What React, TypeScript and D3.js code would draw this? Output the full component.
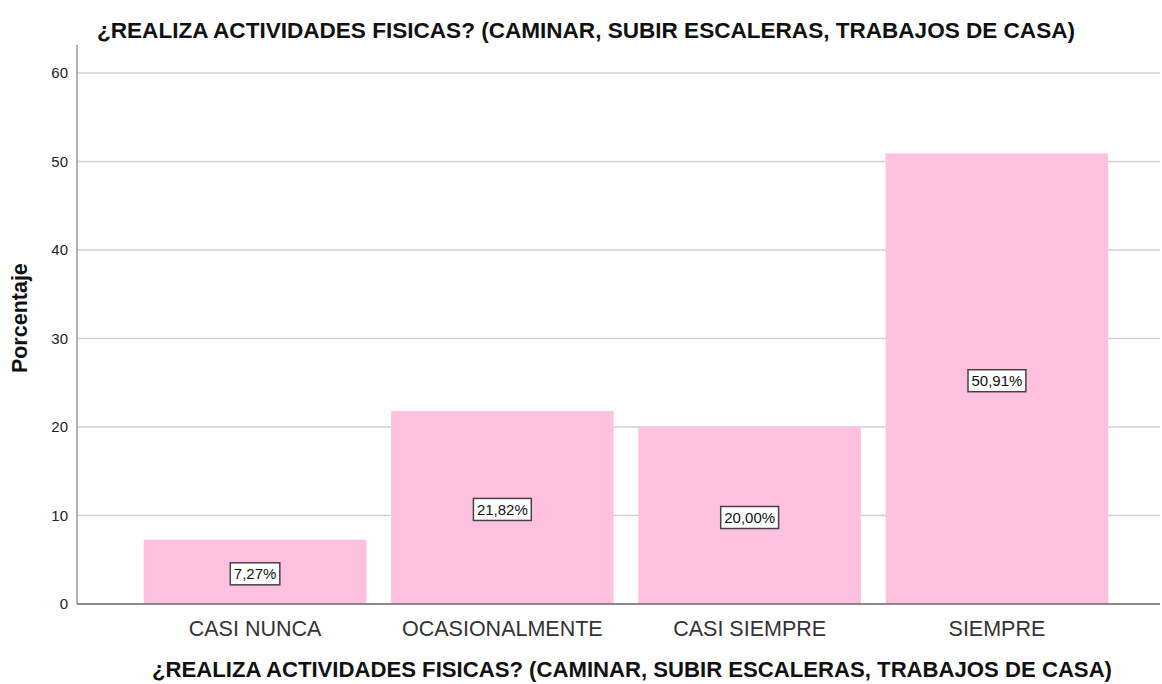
import React, { useEffect, useRef } from 'react'
import * as d3 from 'd3'

const categories = ['CASI NUNCA', 'OCASIONALMENTE', 'CASI SIEMPRE', 'SIEMPRE']
const percentages = [7.27, 21.82, 20.0, 50.91]
const yTicks = [0, 10, 20, 30, 40, 50, 60]
const chartTitle = '¿REALIZA ACTIVIDADES FISICAS? (CAMINAR, SUBIR ESCALERAS, TRABAJOS DE CASA)'
const yTitle = 'Porcentaje'

export default function App() {
  const svgRef = useRef<SVGSVGElement>(null)
  const width = 1162
  const height = 684
  const margin = { top: 45, right: 2, left: 77 }

  useEffect(() => {
    if (!svgRef.current) return
    const svg = d3.select(svgRef.current)
    svg.selectAll('*').remove()

    const font = 'Arial, "Liberation Sans", sans-serif'

    // band range runs a bit past the right edge, like the original
    const x = d3.scaleBand<string>()
      .domain(categories)
      .range([margin.left, 1175])
      .paddingInner(0.1)
      .paddingOuter(0.27)

    const y = d3.scaleLinear()
      .domain([0, 60])
      .range([604, 73])

    // gridlines
    svg.append('g')
      .selectAll('line')
      .data(yTicks.filter(t => t > 0))
      .enter()
      .append('line')
      .attr('x1', margin.left)
      .attr('x2', width - margin.right)
      .attr('y1', d => y(d))
      .attr('y2', d => y(d))
      .attr('stroke', '#d0d0d0')
      .attr('stroke-width', 1.3)

    // bars
    svg.append('g')
      .selectAll('rect')
      .data(percentages)
      .enter()
      .append('rect')
      .attr('x', (d, i) => x(categories[i])!)
      .attr('y', d => y(d))
      .attr('width', x.bandwidth())
      .attr('height', d => y(0) - y(d))
      .attr('fill', '#fec1e0')

    // axis lines
    svg.append('line')
      .attr('x1', margin.left).attr('x2', margin.left)
      .attr('y1', margin.top).attr('y2', y(0))
      .attr('stroke', '#8a8a8a').attr('stroke-width', 1.3)
    svg.append('line')
      .attr('x1', margin.left).attr('x2', width - margin.right)
      .attr('y1', y(0)).attr('y2', y(0))
      .attr('stroke', '#666').attr('stroke-width', 1.3)

    // y tick labels
    svg.append('g')
      .selectAll('text')
      .data(yTicks)
      .enter()
      .append('text')
      .attr('x', margin.left - 9)
      .attr('y', d => y(d))
      .attr('dy', '0.35em')
      .attr('text-anchor', 'end')
      .attr('font-family', font)
      .attr('font-size', 15)
      .attr('fill', '#222')
      .text(d => d)

    // category labels
    svg.append('g')
      .selectAll('text')
      .data(categories)
      .enter()
      .append('text')
      .attr('x', d => x(d)! + x.bandwidth() / 2)
      .attr('y', 636)
      .attr('text-anchor', 'middle')
      .attr('font-family', font)
      .attr('font-size', 21.5)
      .attr('fill', '#333')
      .text(d => d)

    // value labels in boxes
    const fmt = (v: number) => v.toFixed(2).replace('.', ',') + '%'
    const labels = svg.append('g')
      .selectAll('g')
      .data(percentages)
      .enter()
      .append('g')
      .attr('transform', (d, i) => `translate(${x(categories[i])! + x.bandwidth() / 2},${y(d / 2) + 2})`)
    labels.append('text')
      .attr('text-anchor', 'middle')
      .attr('dy', '0.36em')
      .attr('font-family', font)
      .attr('font-size', 15)
      .attr('fill', '#111')
      .text(d => fmt(d))
      .each(function () {
        const bb = (this as SVGTextElement).getBBox()
        d3.select((this as SVGTextElement).parentNode as SVGGElement)
          .insert('rect', 'text')
          .attr('x', bb.x - 3.5)
          .attr('y', -11)
          .attr('width', bb.width + 7)
          .attr('height', 22)
          .attr('fill', 'white')
          .attr('stroke', '#444')
          .attr('stroke-width', 1.5)
      })

    // titles
    svg.append('text')
      .attr('x', 586)
      .attr('y', 38)
      .attr('text-anchor', 'middle')
      .attr('font-family', font)
      .attr('font-weight', 'bold')
      .attr('font-size', 22)
      .attr('textLength', 978)
      .attr('lengthAdjust', 'spacingAndGlyphs')
      .attr('fill', '#111')
      .text(chartTitle)

    svg.append('text')
      .attr('x', 632)
      .attr('y', 677)
      .attr('text-anchor', 'middle')
      .attr('font-family', font)
      .attr('font-weight', 'bold')
      .attr('font-size', 22)
      .attr('textLength', 960)
      .attr('lengthAdjust', 'spacingAndGlyphs')
      .attr('fill', '#111')
      .text(chartTitle)

    svg.append('text')
      .attr('transform', `translate(27,${y(32.3)}) rotate(-90)`)
      .attr('text-anchor', 'middle')
      .attr('font-family', font)
      .attr('font-weight', 'bold')
      .attr('font-size', 21.5)
      .attr('fill', '#111')
      .text(yTitle)
  }, [])

  return (
    <svg
      ref={svgRef}
      width={width}
      height={height}
      style={{ position: 'absolute', left: 0, top: 0, background: 'white' }}
    />
  )
}
